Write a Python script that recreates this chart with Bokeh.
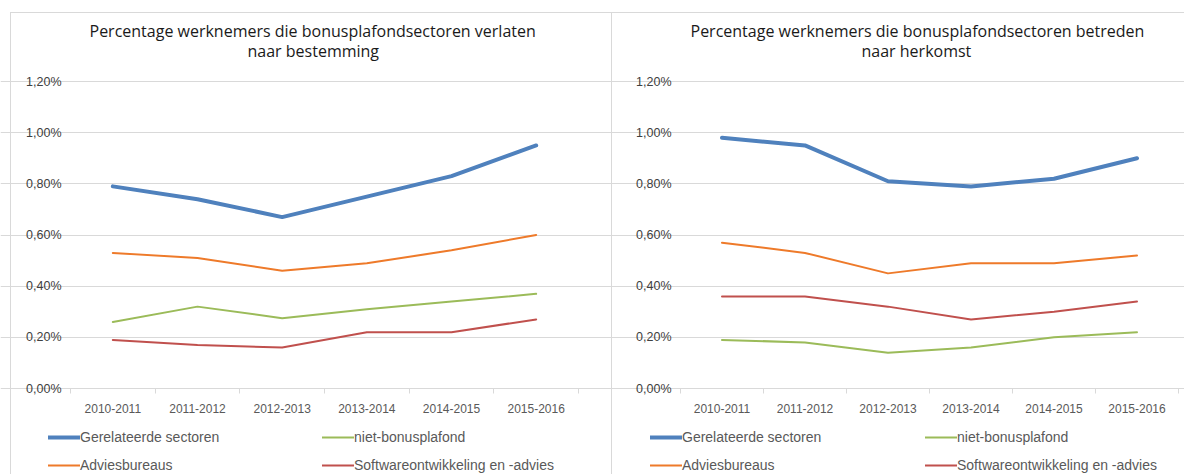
from bokeh.plotting import figure
from bokeh.models import Range1d, FixedTicker, Legend, LegendItem, Title
from bokeh.layouts import row
from bokeh.embed import file_html
from bokeh.resources import INLINE

categories = ["2010-2011", "2011-2012", "2012-2013", "2013-2014", "2014-2015", "2015-2016"]
series_names = ["Gerelateerde sectoren", "niet-bonusplafond", "Adviesbureaus", "Softwareontwikkeling en -advies"]
series_colors = ["#4F81BD", "#9BBB59", "#EE7A2A", "#C0504D"]
series_widths = [4, 2, 2, 2]

left_title_lines = ["Percentage werknemers die bonusplafondsectoren verlaten", "naar bestemming"]
left_gerelateerde = [0.79, 0.74, 0.67, 0.75, 0.83, 0.95]
left_niet_bonusplafond = [0.26, 0.32, 0.275, 0.31, 0.34, 0.37]
left_adviesbureaus = [0.53, 0.51, 0.46, 0.49, 0.54, 0.60]
left_software = [0.19, 0.17, 0.16, 0.22, 0.22, 0.27]

right_title_lines = ["Percentage werknemers die bonusplafondsectoren betreden", "naar herkomst"]
right_gerelateerde = [0.98, 0.95, 0.81, 0.79, 0.82, 0.90]
right_niet_bonusplafond = [0.19, 0.18, 0.14, 0.16, 0.20, 0.22]
right_adviesbureaus = [0.57, 0.53, 0.45, 0.49, 0.49, 0.52]
right_software = [0.36, 0.36, 0.32, 0.27, 0.30, 0.34]

y_ticks = [0.0, 0.2, 0.4, 0.6, 0.8, 1.0, 1.2]
y_tick_labels = ["0,00%", "0,20%", "0,40%", "0,60%", "0,80%", "1,00%", "1,20%"]

GRID = "#D9D9D9"
TXT = "#595959"

# layout in pixels
TOP = 71            # top of the frame (10px above the 1,20% gridline)
GAP = 10            # pixels between frame top and the 1,20% gridline
FRAME_H = 403       # frame reaches the bottom of the canvas
AXIS_PX = 307       # pixel height between 0% and 1,20%


def make_panel(title_lines, title_offsets, series, width, plot_left, plot_right,
               legend_x, bg_css):
    n = len(categories)
    ymax = y_ticks[-1]
    kx = (plot_right - plot_left) / n
    ky = AXIS_PX / ymax
    x_range = Range1d(0.5 - plot_left / kx, n + 0.5 + (width - plot_right) / kx)
    y_range = Range1d(-(FRAME_H - AXIS_PX - GAP) / ky, ymax + GAP / ky)

    p = figure(frame_width=width, frame_height=FRAME_H,
               min_border_left=0, min_border_right=0,
               min_border_top=TOP, min_border_bottom=0,
               x_range=x_range, y_range=y_range,
               title_location=None,
               output_backend="svg", toolbar_location=None)
    p.outline_line_color = None
    p.background_fill_color = None
    p.border_fill_alpha = 0
    p.styles = {"background": bg_css}

    # title lines: the one added first sits closest to the plot
    for txt, off, so in [(title_lines[1], title_offsets[1], 20), (title_lines[0], title_offsets[0], -28)]:
        p.add_layout(Title(text=txt, align="left", offset=off, standoff=so,
                           text_font="Open Sans", text_font_size="16px",
                           text_font_style="normal", text_color="#1a1a1a"), "above")

    xs = list(range(1, n + 1))
    # x axis, drawn at 0%
    xa = p.xaxis[0]
    xa.fixed_location = 0
    xa.bounds = (0.5, n + 0.5)
    xa.ticker = FixedTicker(ticks=xs, minor_ticks=[x - 0.5 for x in xs] + [xs[-1] + 0.5])
    xa.major_label_overrides = {x: c for x, c in zip(xs, categories)}
    xa.axis_line_color = GRID
    xa.major_tick_in = 0
    xa.major_tick_out = 0
    xa.minor_tick_in = 0
    xa.minor_tick_out = 5
    xa.minor_tick_line_color = GRID
    xa.major_label_standoff = 10
    xa.major_label_text_font = "Liberation Sans"
    xa.major_label_text_font_size = "12px"
    xa.major_label_text_color = TXT
    # y axis, drawn at the left edge of the plot area
    ya = p.yaxis[0]
    ya.fixed_location = 0.5
    ya.bounds = (0, ymax)
    ya.ticker = FixedTicker(ticks=y_ticks)
    ya.major_label_overrides = {t: l for t, l in zip(y_ticks, y_tick_labels)}
    ya.axis_line_color = None
    ya.major_tick_in = 0
    ya.major_tick_out = 0
    ya.minor_tick_line_color = None
    ya.major_label_standoff = 9
    ya.major_label_text_font = "Liberation Sans"
    ya.major_label_text_font_size = "12.5px"
    ya.major_label_text_color = "#404040"

    p.xgrid.grid_line_color = None
    p.ygrid.grid_line_color = GRID
    p.ygrid.bounds = (0.5, n + 0.5)
    p.ygrid.ticker = FixedTicker(ticks=y_ticks)

    rs = []
    for vals, col, w in zip(series, series_colors, series_widths):
        rs.append(p.line(xs, vals, line_color=col, line_width=w, line_join="round", line_cap="round"))

    # two legend columns: (Gerelateerde, Advies) and (niet-bonusplafond, Software)
    for col_idx, (a, b) in enumerate([(0, 2), (1, 3)]):
        legend = Legend(items=[LegendItem(label=series_names[a], renderers=[rs[a]]),
                               LegendItem(label=series_names[b], renderers=[rs[b]])],
                        location=(legend_x[col_idx], 1), orientation="vertical",
                        glyph_width=32, glyph_height=16, label_height=16,
                        label_standoff=0, spacing=12, padding=0, margin=0,
                        border_line_color=None, background_fill_alpha=0,
                        label_text_font="Liberation Sans", label_text_font_size="14px",
                        label_text_color=TXT)
        p.add_layout(legend, "center")
    return p


line = "linear-gradient(#d9d9d9,#d9d9d9)"
left_bg = f"{line} 10px 12px / 1px 100% no-repeat, {line} 10px 12px / 100% 1px no-repeat, white"
right_bg = f"{line} 0px 12px / 1px 100% no-repeat, {line} 0px 12px / 100% 1px no-repeat, white"

p_left = make_panel(left_title_lines, [89, 247],
                    [left_gerelateerde, left_niet_bonusplafond, left_adviesbureaus, left_software],
                    611, 70, 578, [48, 322], left_bg)
p_right = make_panel(right_title_lines, [79, 250],
                     [right_gerelateerde, right_niet_bonusplafond, right_adviesbureaus, right_software],
                     573, 69, 567, [39, 314], right_bg)

layout = row(p_left, p_right)
open("out.html", "w").write(file_html(layout, INLINE))
